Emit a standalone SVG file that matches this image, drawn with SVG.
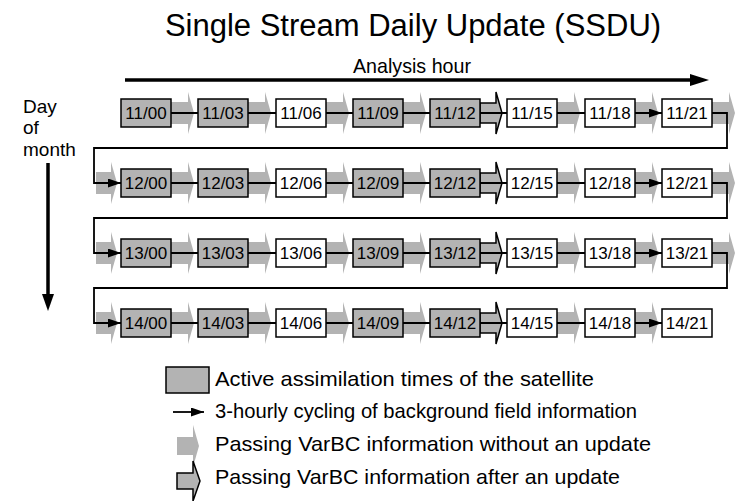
<svg xmlns="http://www.w3.org/2000/svg" width="737" height="501" viewBox="0 0 737 501">
<defs>
<marker id="ah" viewBox="0 0 13 9" refX="13" refY="4.5" markerWidth="13" markerHeight="9" orient="auto" markerUnits="userSpaceOnUse"><path d="M0,0 L13,4.5 L0,9 z" fill="#000"/></marker>
<g id="ga"><rect x="0" y="-11" width="17" height="22"/><polygon points="17,-21 23,0 17,21"/></g>
<g id="oa"><polygon points="0,-10 16,-10 16,-21 22,0 16,21 16,10 0,10"/></g>
</defs>
<style>
text{font-family:"Liberation Sans",Arial,sans-serif;fill:#000}
.box{stroke:#000;stroke-width:1.5}
.on{fill:#b3b3b3}
.off{fill:#fff}
.lbl{font-size:17px;text-anchor:middle}
.gray{fill:#b3b3b3}
.out{fill:#b3b3b3;stroke:#000;stroke-width:1.5;stroke-linejoin:miter}
.cyc{fill:none;stroke:#000;stroke-width:1.8;marker-end:url(#ah)}
.leg{font-size:21px}
</style>
<rect width="737" height="501" fill="#fff"/>
<text x="413" y="36" style="font-size:31px;text-anchor:middle">Single Stream Daily Update (SSDU)</text>
<text x="412" y="73" style="font-size:21px;text-anchor:middle" textLength="118" lengthAdjust="spacingAndGlyphs">Analysis hour</text>
<g id="axis-hour"><line x1="125" y1="80" x2="692" y2="80" stroke="#000" stroke-width="3.5"/><polygon points="690,74 709,80 690,86"/></g>
<text x="23" y="113" style="font-size:19px">Day</text>
<text x="23" y="134" style="font-size:19px">of</text>
<text x="23" y="156" style="font-size:19px">month</text>
<g id="axis-day"><line x1="48" y1="163" x2="48" y2="296" stroke="#000" stroke-width="3.5"/><polygon points="42,294 48,311 54,294"/></g>

<!-- VarBC passing arrows (background) -->
<g id="varbc" class="gray">
<use href="#ga" x="171" y="113"/><use href="#ga" x="248" y="113"/><use href="#ga" x="326" y="113"/><use href="#ga" x="403" y="113"/><use href="#ga" x="557" y="113"/><use href="#ga" x="635" y="113"/><use href="#ga" x="712" y="113"/>
<rect x="96" y="172" width="15" height="22"/><polygon points="111,162 117,183 111,204"/>
<use href="#ga" x="171" y="183"/><use href="#ga" x="248" y="183"/><use href="#ga" x="326" y="183"/><use href="#ga" x="403" y="183"/><use href="#ga" x="557" y="183"/><use href="#ga" x="635" y="183"/><use href="#ga" x="712" y="183"/>
<rect x="96" y="242" width="15" height="22"/><polygon points="111,232 117,253 111,274"/>
<use href="#ga" x="171" y="253"/><use href="#ga" x="248" y="253"/><use href="#ga" x="326" y="253"/><use href="#ga" x="403" y="253"/><use href="#ga" x="557" y="253"/><use href="#ga" x="635" y="253"/><use href="#ga" x="712" y="253"/>
<rect x="96" y="312" width="15" height="22"/><polygon points="111,302 117,323 111,344"/>
<use href="#ga" x="171" y="323"/><use href="#ga" x="248" y="323"/><use href="#ga" x="326" y="323"/><use href="#ga" x="403" y="323"/><use href="#ga" x="557" y="323"/><use href="#ga" x="635" y="323"/>
</g>
<g id="varbc-update" class="out">
<use href="#oa" x="480" y="113"/><use href="#oa" x="480" y="183"/><use href="#oa" x="480" y="253"/><use href="#oa" x="480" y="323"/>
</g>

<!-- connectors: 3-hourly cycling -->
<g id="connectors" class="cyc">
<path d="M171,113H198M248,113H276M326,113H353M403,113H430M480,113H507M557,113H585M635,113H662"/>
<path d="M712,113H727V148H94V183H121"/>
<path d="M171,183H198M248,183H276M326,183H353M403,183H430M480,183H507M557,183H585M635,183H662"/>
<path d="M712,183H727V218H94V253H121"/>
<path d="M171,253H198M248,253H276M326,253H353M403,253H430M480,253H507M557,253H585M635,253H662"/>
<path d="M712,253H727V288H94V323H121"/>
<path d="M171,323H198M248,323H276M326,323H353M403,323H430M480,323H507M557,323H585M635,323H662"/>
</g>

<!-- nodes -->
<g id="n1100"><rect class="box on" x="121" y="99" width="50" height="28"/><text class="lbl" x="146" y="119">11/00</text></g>
<g id="n1103"><rect class="box on" x="198" y="99" width="50" height="28"/><text class="lbl" x="223" y="119">11/03</text></g>
<g id="n1106"><rect class="box off" x="276" y="99" width="50" height="28"/><text class="lbl" x="301" y="119">11/06</text></g>
<g id="n1109"><rect class="box on" x="353" y="99" width="50" height="28"/><text class="lbl" x="378" y="119">11/09</text></g>
<g id="n1112"><rect class="box on" x="430" y="99" width="50" height="28"/><text class="lbl" x="455" y="119">11/12</text></g>
<g id="n1115"><rect class="box off" x="507" y="99" width="50" height="28"/><text class="lbl" x="532" y="119">11/15</text></g>
<g id="n1118"><rect class="box off" x="585" y="99" width="50" height="28"/><text class="lbl" x="610" y="119">11/18</text></g>
<g id="n1121"><rect class="box off" x="662" y="99" width="50" height="28"/><text class="lbl" x="687" y="119">11/21</text></g>

<g id="n1200"><rect class="box on" x="121" y="169" width="50" height="28"/><text class="lbl" x="146" y="189">12/00</text></g>
<g id="n1203"><rect class="box on" x="198" y="169" width="50" height="28"/><text class="lbl" x="223" y="189">12/03</text></g>
<g id="n1206"><rect class="box off" x="276" y="169" width="50" height="28"/><text class="lbl" x="301" y="189">12/06</text></g>
<g id="n1209"><rect class="box on" x="353" y="169" width="50" height="28"/><text class="lbl" x="378" y="189">12/09</text></g>
<g id="n1212"><rect class="box on" x="430" y="169" width="50" height="28"/><text class="lbl" x="455" y="189">12/12</text></g>
<g id="n1215"><rect class="box off" x="507" y="169" width="50" height="28"/><text class="lbl" x="532" y="189">12/15</text></g>
<g id="n1218"><rect class="box off" x="585" y="169" width="50" height="28"/><text class="lbl" x="610" y="189">12/18</text></g>
<g id="n1221"><rect class="box off" x="662" y="169" width="50" height="28"/><text class="lbl" x="687" y="189">12/21</text></g>

<g id="n1300"><rect class="box on" x="121" y="239" width="50" height="28"/><text class="lbl" x="146" y="259">13/00</text></g>
<g id="n1303"><rect class="box on" x="198" y="239" width="50" height="28"/><text class="lbl" x="223" y="259">13/03</text></g>
<g id="n1306"><rect class="box off" x="276" y="239" width="50" height="28"/><text class="lbl" x="301" y="259">13/06</text></g>
<g id="n1309"><rect class="box on" x="353" y="239" width="50" height="28"/><text class="lbl" x="378" y="259">13/09</text></g>
<g id="n1312"><rect class="box on" x="430" y="239" width="50" height="28"/><text class="lbl" x="455" y="259">13/12</text></g>
<g id="n1315"><rect class="box off" x="507" y="239" width="50" height="28"/><text class="lbl" x="532" y="259">13/15</text></g>
<g id="n1318"><rect class="box off" x="585" y="239" width="50" height="28"/><text class="lbl" x="610" y="259">13/18</text></g>
<g id="n1321"><rect class="box off" x="662" y="239" width="50" height="28"/><text class="lbl" x="687" y="259">13/21</text></g>

<g id="n1400"><rect class="box on" x="121" y="309" width="50" height="28"/><text class="lbl" x="146" y="329">14/00</text></g>
<g id="n1403"><rect class="box on" x="198" y="309" width="50" height="28"/><text class="lbl" x="223" y="329">14/03</text></g>
<g id="n1406"><rect class="box off" x="276" y="309" width="50" height="28"/><text class="lbl" x="301" y="329">14/06</text></g>
<g id="n1409"><rect class="box on" x="353" y="309" width="50" height="28"/><text class="lbl" x="378" y="329">14/09</text></g>
<g id="n1412"><rect class="box on" x="430" y="309" width="50" height="28"/><text class="lbl" x="455" y="329">14/12</text></g>
<g id="n1415"><rect class="box off" x="507" y="309" width="50" height="28"/><text class="lbl" x="532" y="329">14/15</text></g>
<g id="n1418"><rect class="box off" x="585" y="309" width="50" height="28"/><text class="lbl" x="610" y="329">14/18</text></g>
<g id="n1421"><rect class="box off" x="662" y="309" width="50" height="28"/><text class="lbl" x="687" y="329">14/21</text></g>

<!-- legend -->
<g id="legend">
<rect class="box on" x="166" y="367" width="43" height="26"/>
<text class="leg" x="215" y="386" textLength="379" lengthAdjust="spacingAndGlyphs">Active assimilation times of the satellite</text>
<line class="cyc" x1="173" y1="412" x2="204" y2="412"/>
<text class="leg" x="215" y="418" textLength="422" lengthAdjust="spacingAndGlyphs">3-hourly cycling of background field information</text>
<g class="gray"><rect x="177" y="437" width="16" height="18"/><polygon points="193,425 199,446 193,467"/></g>
<text class="leg" x="215" y="451" textLength="436" lengthAdjust="spacingAndGlyphs">Passing VarBC information without an update</text>
<polygon class="out" points="177,473 193,473 193,461 200,481 193,501 193,489 177,489"/>
<text class="leg" x="215" y="484" textLength="405" lengthAdjust="spacingAndGlyphs">Passing VarBC information after an update</text>
</g>
</svg>
